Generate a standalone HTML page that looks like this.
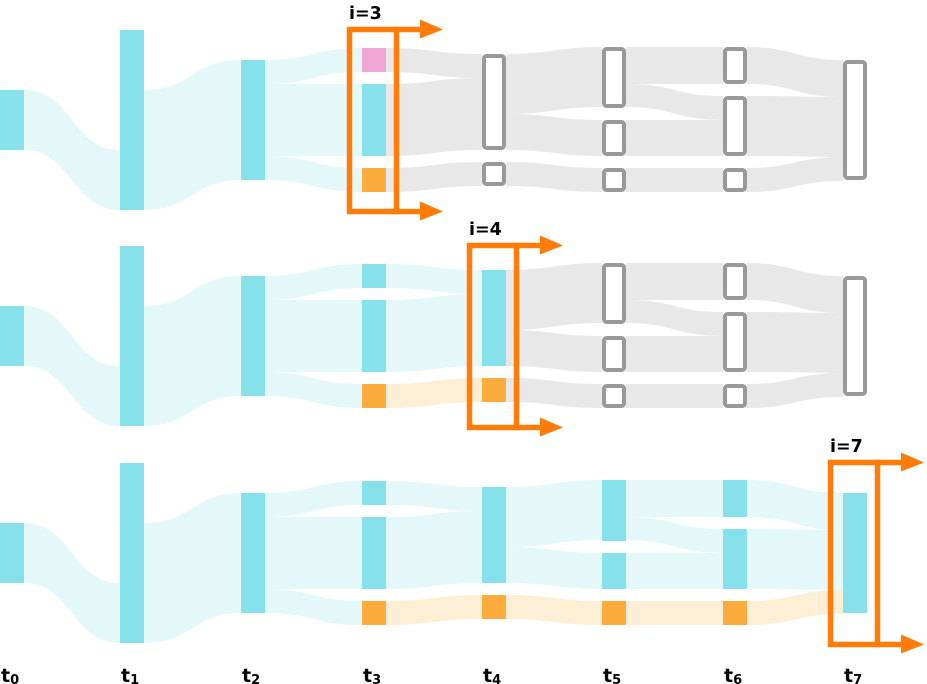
<!DOCTYPE html>
<html><head><meta charset="utf-8"><style>
html,body{margin:0;padding:0;background:#fff;}
svg{display:block;}
text{font-family:"DejaVu Sans","Liberation Sans",sans-serif;font-weight:bold;fill:#000;}
</style></head><body>
<svg id="s" width="927" height="684" viewBox="0 0 927 684" xmlns="http://www.w3.org/2000/svg">
<g id="flows"></g>
<g id="nodes"></g>
<g id="frames" fill="none" stroke="#FF7B0A" stroke-width="5.5"></g>
<text x="349" y="19" font-size="17.5">i=3</text>
<text x="469" y="235" font-size="17.5">i=4</text>
<text x="830" y="452" font-size="17.5">i=7</text>
<text x="1" y="682" font-size="19">t<tspan font-size="13" dy="2">0</tspan></text>
<text x="121" y="682" font-size="19">t<tspan font-size="13" dy="2">1</tspan></text>
<text x="242" y="682" font-size="19">t<tspan font-size="13" dy="2">2</tspan></text>
<text x="363" y="682" font-size="19">t<tspan font-size="13" dy="2">3</tspan></text>
<text x="483" y="682" font-size="19">t<tspan font-size="13" dy="2">4</tspan></text>
<text x="603" y="682" font-size="19">t<tspan font-size="13" dy="2">5</tspan></text>
<text x="724" y="682" font-size="19">t<tspan font-size="13" dy="2">6</tspan></text>
<text x="844" y="682" font-size="19">t<tspan font-size="13" dy="2">7</tspan></text>
</svg>
<script>
var NS="http://www.w3.org/2000/svg";
var X=[0,120,241,362,482,602,723,843],W=24;
var C={cy:"#86E1EB",cf:"#E4F7F9",gf:"#E8E8E8",pk:"#F2A6D6",or:"#FCAC3C",of:"#FDEED6"};
function el(p,t,a){var e=document.createElementNS(NS,t);for(var k in a)e.setAttribute(k,a[k]);document.getElementById(p).appendChild(e);}
function flow(o,s,a1,b1,a2,b2,col){var x1=X[s]+W,x2=X[s+1],m=(x1+x2)/2;
a1+=o;b1+=o;a2+=o;b2+=o;
var d="M"+x1+","+a1+" C"+m+","+a1+" "+m+","+a2+" "+x2+","+a2+" L"+x2+","+b2+" C"+m+","+b2+" "+m+","+b1+" "+x1+","+b1+"Z";
el("flows","path",{d:d,fill:col});}
var F=[[0,90,150,150,210,"c"],[1,90,210,60,180,"c"],[2,60,84,48,72,"c"],[2,84,156,84,156,"c"],[2,156,180,168,192,"c"],
[3,48,72,54,78,"c"],[3,84,156,78,150,"c"],[3,168,192,162,186,"o"],
[4,54,114,47,107,"c"],[4,114,150,120,156,"c"],[4,162,186,168,192,"o"],
[5,47,84,47,84,"c"],[5,84,107,96,120,"c"],[5,120,156,120,156,"c"],[5,168,192,168,192,"o"],
[6,47,84,60,97,"c"],[6,96,156,97,157,"c"],[6,168,192,157,181,"o"]];
var N=[[0,90,150],[1,30,210],[2,60,180],[3,48,72,"p"],[3,84,156],[3,168,192,"o"],[4,54,150],[4,162,186,"o"],
[5,47,108],[5,120,156],[5,168,192,"o"],[6,47,84],[6,96,156],[6,168,192,"o"],[7,60,180]];
var rows=[[0,3],[216,4],[433,7]];
rows.forEach(function(r){var o=r[0],k=r[1];
F.forEach(function(f){var col;
 if(f[0]+1>k)col=C.gf; else if(f[5]=="o"&&f[0]>=3)col=C.of; else col=C.cf;
 if(k==3&&f[0]==2)col=C.cf;
 flow(o,f[0],f[1],f[2],f[3],f[4],col);});
N.forEach(function(n){var x=X[n[0]],y=n[1]+o,h=n[2]-n[1];
 if(n[0]>k){el("nodes","rect",{x:x+2,y:y+2,width:W-4,height:h-4,rx:2.5,fill:"#fff",stroke:"#999",'stroke-width':4});}
 else{var c=C.cy;if(n[3]=="o")c=C.or;if(n[3]=="p"&&k==3)c=C.pk;
  el("nodes","rect",{x:x,y:y,width:W,height:h,fill:c});}});
var fx=X[k]-12,ty=29.5+o,by=211.5+o;
el("frames","rect",{x:fx-0.5,y:ty,width:47,height:by-ty});
el("frames","path",{d:"M"+(fx+44)+","+ty+" H"+(fx+74)+" M"+(fx+44)+","+by+" H"+(fx+74)});
[ty,by].forEach(function(yy){el("frames","path",{d:"M"+(fx+70)+","+(yy-10)+" L"+(fx+93)+","+yy+" L"+(fx+70)+","+(yy+9)+"Z",fill:"#FF7B0A",stroke:"none"});});
});
</script>
</body></html>
